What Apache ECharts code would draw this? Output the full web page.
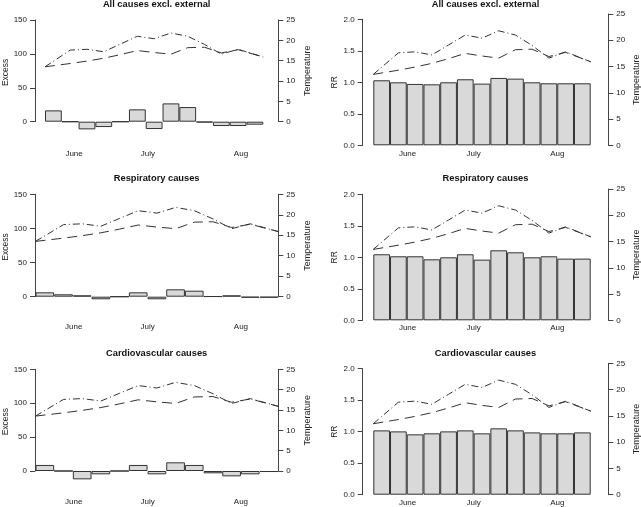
<!DOCTYPE html>
<html>
<head>
<meta charset="utf-8">
<script src="https://cdn.jsdelivr.net/npm/echarts@6/dist/echarts.min.js"></script>
<style>
  html, body { margin: 0; padding: 0; background: #fff; }
  #chart { width: 641px; height: 507px; }
</style>
</head>
<body>
<div id="chart"></div>
<script>
// weekly bars, 13 weeks from start of June
const weeks = ['1', '2', '3', '4', '5', '6', '7', '8', '9', '10', '11', '12', '13']
const months = ['June', 'July', 'Aug']
const monthPos = [2.05, 6, 11]
const monthPosTop = [1.73, 6.13, 11.67]

// temperature (position in weeks)
const tempX = [0, 1.5, 2.5, 3.5, 4.5, 5.5, 6.5, 7.5, 8.5, 9.5, 10.5, 11.5, 13]
const tempMax = [13.5, 17.6, 17.8, 17.2, 19.1, 21.0, 20.4, 21.8, 21.0, 19.0, 16.6, 17.8, 15.9]
const tempMean = [13.5, 14.3, 14.9, 15.6, 16.5, 17.5, 17.0, 16.6, 18.2, 18.3, 16.9, 17.7, 15.9]

const excessAll = [16.7, 0, -11.3, -7.9, 0, 18.2, -10.8, 27, 21.6, -1, -6.4, -6.4, -4.4]
const excessResp = [6.4, 3.5, 2.0, -3.8, 0, 6.4, -3.8, 10.8, 8.8, 0.5, 2.0, -1.4, -1.4]
const excessCardio = [8.9, 0, -12.3, -4.9, 0, 8.9, -4.9, 12.8, 8.9, -3.4, -7.9, -4.9, -1.5]

const rrAll = [1.032, 1.0, 0.974, 0.968, 1.0, 1.048, 0.979, 1.069, 1.058, 1.0, 0.984, 0.984, 0.984]
const rrResp = [1.048, 1.016, 1.016, 0.968, 1.0, 1.048, 0.963, 1.111, 1.079, 1.0, 1.016, 0.979, 0.979]
const rrCardio = [1.021, 1.005, 0.958, 0.974, 1.005, 1.021, 0.974, 1.053, 1.021, 0.989, 0.974, 0.974, 0.989]

const FONT = "'Liberation Sans', Arial, sans-serif"
const INK = '#222'
const AXIS = '#444'

// layout of the six panels (pixels)
const panels = [
  { title: 'All causes excl. external', bars: excessAll, yName: 'Excess', yMax: 150, yStep: 50, dec: 0,
    barL: 45, barR: 263.3, axL: 35, axR: 278.3, topL: 20, topR: 20, base: 121.7, monthAt: monthPosTop, lblGap: 27.8, titleY: 4.5 },
  { title: 'All causes excl. external', bars: rrAll, yName: 'RR', yMax: 2, yStep: 0.5, dec: 1,
    barL: 373.3, barR: 590.7, axL: 362.7, axR: 608.3, topL: 19.3, topR: 14, base: 145.3, monthAt: monthPos, lblGap: 4.2, titleY: 4.5 },
  { title: 'Respiratory causes', bars: excessResp, yName: 'Excess', yMax: 150, yStep: 50, dec: 0,
    barL: 35.5, barR: 278.3, axL: 35, axR: 278.3, topL: 194.3, topR: 194.3, base: 296.7, monthAt: monthPos, lblGap: 26.5, titleY: 178.5 },
  { title: 'Respiratory causes', bars: rrResp, yName: 'RR', yMax: 2, yStep: 0.5, dec: 1,
    barL: 373.3, barR: 590.7, axL: 362.7, axR: 608.3, topL: 194.3, topR: 189, base: 320.3, monthAt: monthPos, lblGap: 3.0, titleY: 178.5 },
  { title: 'Cardiovascular causes', bars: excessCardio, yName: 'Excess', yMax: 150, yStep: 50, dec: 0,
    barL: 35.5, barR: 278.3, axL: 35, axR: 278.3, topL: 369.3, topR: 369.3, base: 471, monthAt: monthPos, lblGap: 27.2, titleY: 353.3 },
  { title: 'Cardiovascular causes', bars: rrCardio, yName: 'RR', yMax: 2, yStep: 0.5, dec: 1,
    barL: 373.3, barR: 590.7, axL: 362.7, axR: 608.3, topL: 368.7, topR: 363.3, base: 494.7, monthAt: monthPos, lblGap: 4.1, titleY: 353.3 }
]

const chart = echarts.init(document.getElementById('chart'))

const grid = []
const xAxis = []
const yAxis = []
const series = []
const graphic = []

const tickLabel = { fontSize: 8, color: INK, fontFamily: FONT }

panels.forEach((p, i) => {
  const a = i * 2
  const b = i * 2 + 1
  const w = p.barR - p.barL

  grid.push({ left: p.barL, top: p.topL, width: w, height: p.base - p.topL })
  grid.push({ left: p.barL, top: p.topR, width: w, height: p.base - p.topR })

  // bars on a category axis
  xAxis.push({ gridIndex: a, type: 'category', data: weeks, show: false })
  // temperature lines + month labels
  xAxis.push({
    gridIndex: b, type: 'value', min: 0, max: 13,
    axisLine: { show: false, onZero: false }, axisTick: { show: false }, splitLine: { show: false },
    axisLabel: Object.assign({
      margin: p.lblGap,
      customValues: p.monthAt,
      formatter: (v) => {
        const k = p.monthAt.findIndex(m => Math.abs(m - v) < 1e-6)
        return k >= 0 ? months[k] : ''
      }
    }, tickLabel)
  })

  yAxis.push({
    gridIndex: a, type: 'value', position: 'left', min: 0, max: p.yMax, interval: p.yStep,
    offset: p.barL - p.axL,
    axisLine: { show: true, onZero: false, lineStyle: { color: AXIS, width: 1 } },
    axisTick: { show: true, length: 5, lineStyle: { color: AXIS } },
    axisLabel: Object.assign({ margin: 8, formatter: v => v.toFixed(p.dec) }, tickLabel),
    splitLine: { show: false }
  })
  yAxis.push({
    gridIndex: b, type: 'value', position: 'right', min: 0, max: 25, interval: 5,
    offset: p.axR - p.barR,
    axisLine: { show: true, onZero: false, lineStyle: { color: AXIS, width: 1 } },
    axisTick: { show: true, length: 5, lineStyle: { color: AXIS } },
    axisLabel: Object.assign({ margin: 8 }, tickLabel),
    splitLine: { show: false }
  })

  series.push({
    type: 'bar', xAxisIndex: a, yAxisIndex: a, data: p.bars,
    barWidth: '100%', barCategoryGap: 0, clip: false, silent: true,
    itemStyle: { color: '#d9d9d9', borderColor: '#333', borderWidth: 1 }
  })
  series.push({
    type: 'line', xAxisIndex: b, yAxisIndex: b, symbol: 'none', silent: true,
    data: tempX.map((x, k) => [x, tempMax[k]]),
    lineStyle: { color: '#333', width: 1, type: [7, 3, 1, 3] }
  })
  series.push({
    type: 'line', xAxisIndex: b, yAxisIndex: b, symbol: 'none', silent: true,
    data: tempX.map((x, k) => [x, tempMean[k]]),
    lineStyle: { color: '#333', width: 1, type: [10, 6] }
  })

  const left = i % 2 === 0
  graphic.push({
    type: 'text', x: (p.axL + p.axR) / 2, y: p.titleY,
    style: { text: p.title, align: 'center', verticalAlign: 'middle', fill: '#111',
      font: 'bold 9.3px ' + FONT }
  })
  graphic.push({
    type: 'text', x: left ? 6 : 335, y: (p.topL + p.base) / 2 + (left ? 1.5 : 0), rotation: Math.PI / 2,
    style: { text: p.yName, align: 'center', verticalAlign: 'middle', fill: INK,
      font: '8.5px ' + FONT }
  })
  graphic.push({
    type: 'text', x: left ? 307.3 : 636.5, y: (p.topR + p.base) / 2, rotation: Math.PI / 2,
    style: { text: 'Temperature', align: 'center', verticalAlign: 'middle', fill: INK,
      font: '9px ' + FONT }
  })
})

chart.setOption({
  animation: false,
  backgroundColor: '#fff',
  grid,
  xAxis,
  yAxis,
  series,
  graphic
})
</script>
</body>
</html>
